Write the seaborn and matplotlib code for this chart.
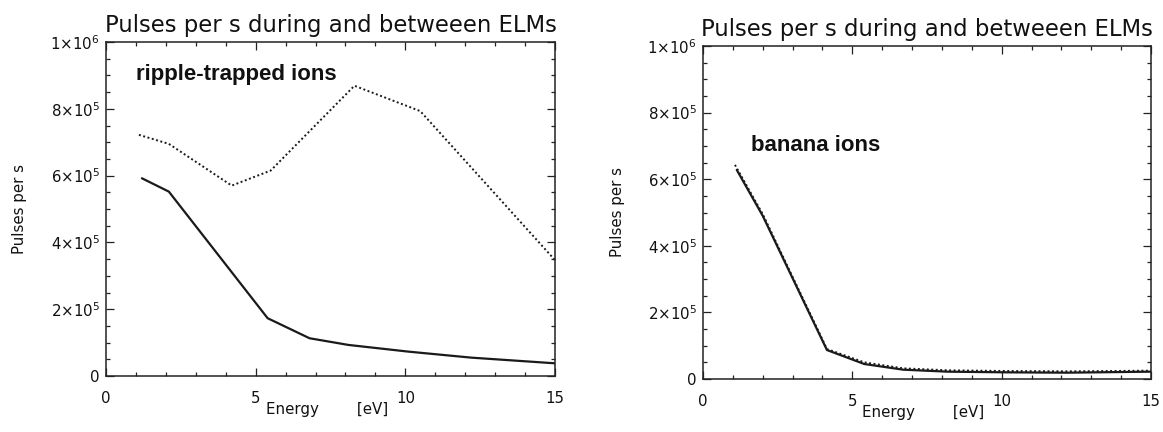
import numpy as np
import pandas as pd
import matplotlib
matplotlib.use("Agg")
import matplotlib.pyplot as plt
import seaborn as sns
from matplotlib.ticker import MultipleLocator, FuncFormatter

# ---------------- data ----------------
title_text = "Pulses per s during and betweeen ELMs"
ylabel_text = "Pulses per s"
xlabel_text = "Energy        [eV]"
panel_labels = ["ripple-trapped ions", "banana ions"]

ripple_dotted_E = [1.1, 2.1, 4.2, 5.5, 8.3, 10.5, 15.0]
ripple_dotted = [7.22e5, 6.95e5, 5.70e5, 6.15e5, 8.69e5, 7.93e5, 3.47e5]
ripple_solid_E = [1.2, 2.1, 5.4, 6.8, 8.1, 10.1, 12.2, 15.0]
ripple_solid = [5.92e5, 5.52e5, 1.73e5, 1.13e5, 0.93e5, 0.73e5, 0.55e5, 0.38e5]

banana_dotted_E = [1.07, 2.0, 4.15, 5.4, 6.7, 8.2, 10.2, 12.2, 15.0]
banana_dotted = [6.43e5, 4.95e5, 0.90e5, 0.50e5, 0.32e5, 0.26e5, 0.24e5, 0.23e5, 0.25e5]
banana_solid_E = [1.13, 2.0, 4.15, 5.4, 6.7, 8.2, 10.2, 12.2, 15.0]
banana_solid = [6.28e5, 4.90e5, 0.87e5, 0.45e5, 0.28e5, 0.22e5, 0.20e5, 0.19e5, 0.22e5]

x_ticks = [0, 5, 10, 15]
y_ticks = [0, 2e5, 4e5, 6e5, 8e5, 1e6]

# ---------------- style ----------------
sns.set_theme(style="ticks")
plt.rcParams["font.family"] = ["DejaVu Sans"]
plt.rcParams["mathtext.fontset"] = "dejavusans"

LINE = "#1a1a1a"
fig = plt.figure(figsize=(11.63, 4.32), dpi=100)
fig.patch.set_facecolor("white")

positions = [
    [106 / 1163, 1 - 376 / 432, 449 / 1163, 334 / 432],
    [703 / 1163, 1 - 379 / 432, 448 / 1163, 333 / 432],
]


def yfmt(v, pos):
    if abs(v) < 1:
        return "0"
    e = int(np.floor(np.log10(v) + 1e-9))
    m = int(round(v / 10 ** e))
    return rf"${m}{{\times}}10^{{{e}}}$"


def style_axes(ax):
    ax.set_xlim(0, 15)
    ax.set_ylim(0, 1e6)
    ax.set_xticks(x_ticks)
    ax.set_yticks(y_ticks)
    ax.xaxis.set_minor_locator(MultipleLocator(1))
    ax.yaxis.set_minor_locator(MultipleLocator(5e4))
    ax.yaxis.set_major_formatter(FuncFormatter(yfmt))
    ax.tick_params(which="both", direction="in", top=True, right=True,
                   color="#222222", width=0.9)
    ax.tick_params(which="major", length=5.5)
    ax.tick_params(which="minor", length=2.6)
    ax.tick_params(axis="x", which="major", pad=11, labelsize=10.8, labelcolor="#111111")
    ax.tick_params(axis="y", which="major", pad=4.5, labelsize=10.8, labelcolor="#111111")
    for s in ax.spines.values():
        s.set_linewidth(1.1)
        s.set_color("#222222")
    ax.set_title(title_text, fontsize=16.4, pad=7, color="#111111")
    ax.set_xlabel(xlabel_text, fontsize=10.8, color="#111111")
    ax.set_ylabel(ylabel_text, fontsize=10.8, color="#111111")
    ax.xaxis.set_label_coords(0.492, -0.078)
    ax.yaxis.set_label_coords(-0.175, 0.5)
    ax.set_facecolor("white")


# left panel
ax1 = fig.add_axes(positions[0])
sns.lineplot(x=ripple_dotted_E, y=ripple_dotted, ax=ax1, color=LINE,
             linewidth=1.4, linestyle=(0, (1, 1.3)))
sns.lineplot(x=ripple_solid_E, y=ripple_solid, ax=ax1, color=LINE, linewidth=1.6)
style_axes(ax1)
ax1.text(1.0, 8.86e5, panel_labels[0], fontsize=16, fontweight="bold",
         family=["Liberation Sans", "DejaVu Sans"], color="#111111", va="baseline")

# right panel
ax2 = fig.add_axes(positions[1])
sns.lineplot(x=banana_dotted_E, y=banana_dotted, ax=ax2, color=LINE,
             linewidth=1.4, linestyle=(0, (1, 1.3)))
sns.lineplot(x=banana_solid_E, y=banana_solid, ax=ax2, color=LINE, linewidth=1.6)
style_axes(ax2)
ax2.text(1.61, 6.85e5, panel_labels[1], fontsize=16, fontweight="bold",
         family=["Liberation Sans", "DejaVu Sans"], color="#111111", va="baseline")

fig.savefig("out.png", dpi=100, facecolor="white")
